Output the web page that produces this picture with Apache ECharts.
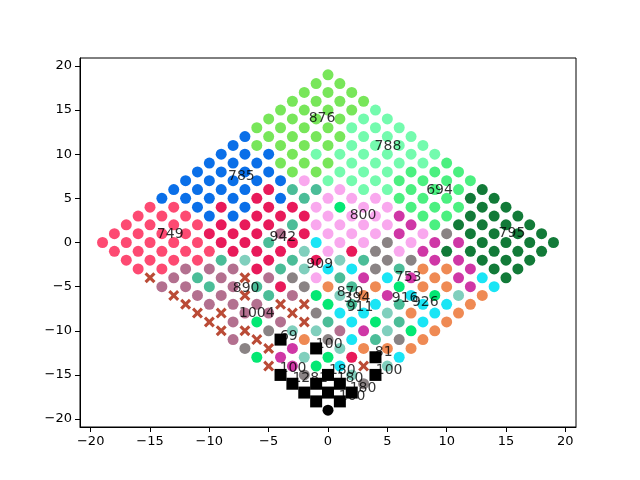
<!DOCTYPE html>
<html>
<head>
<meta charset="utf-8">
<script src="https://cdn.jsdelivr.net/npm/echarts@6/dist/echarts.min.js"></script>
<style>
  html, body { margin: 0; padding: 0; background: #fff; }
  #chart { width: 640px; height: 480px; }
</style>
</head>
<body>
<div id="chart"></div>
<script>
// one string per lattice row, top (y = 19) to bottom (y = -19)
// each char is one point, left to right, on the cells where x + y is odd
const rowY = [19, 18, 17, 16, 15, 14, 13, 12, 11, 10, 9, 8, 7, 6, 5, 4, 3, 2, 1, 0,
  -1, -2, -3, -4, -5, -6, -7, -8, -9, -10, -11, -12, -13, -14, -15, -16, -17, -18, -19]
const rowCodes = [
  'g',
  'gg',
  'ggg',
  'gggg',
  'ggggm',
  'ggggmm',
  'ggggmmm',
  'bggggmmm',
  'bggggmmmm',
  'bbbgmmmmmm',
  'bbbgggmmmmv',
  'bbbbggmmmvvv',
  'bbbbbkmmmvvvv',
  'bbbbcttkmmvvvd',
  'bbbbcbtkkkvvvdd',
  'ppbcbcckekkvvvdd',
  'pppbbccckkkMvvddd',
  'ppppccctkkkkMvdddd',
  'ppppcccrckkkMkadddd',
  'pppppcctcykkakMMdddd',
  'pppppccclkcakMddddd',
  'pppptlctcltaaMMddd',
  'pprrrctlyyatooMdd',
  'xrtrxraktMyMoMyd',
  'rrtrtcaotoeooMy',
  'xrrxtreloMyelo',
  'xrrrxxetytyyo',
  'xxrrxayyloyo',
  'xrerxtyetyo',
  'xxallrMleo',
  'rxsoaytao',
  'axMslooo',
  'eMlecsy',
  'xMeyxl',
  'sasls',
  'sssa',
  'sss',
  'ss',
  'B'
]

const groupColors = {
  g: '#78e65a', m: '#74fbae', v: '#4bf080', d: '#127a38',
  b: '#0a6fe8', p: '#fd4a72', c: '#e81a5a', r: '#b3708f',
  t: '#4bbd98', l: '#80cfbd', k: '#f9a8ee', M: '#cf37a6',
  a: '#8a8384', y: '#1ae5f5', e: '#04e873', o: '#ef8a54',
  x: '#ba4b36', s: '#000000', B: '#000000'
}

// annotations: text and where its centre sits
const noteText = ['876', '788', '785', '694', '800', '749', '942', '795', '909', '753',
  '890', '870', '394', '911', '916', '926', '1004', '69', '100', '81',
  '100', '180', '100', '1281', '180', '180', '100']
const noteX = [-0.5, 5.05, -7.3, 9.4, 2.95, -13.3, -3.8, 15.5, -0.7, 6.75,
  -6.9, 1.86, 2.45, 2.7, 6.5, 8.2, -6.0, -3.3, 0.1, 4.7,
  -2.95, 1.2, 5.15, -1.5, 1.86, 2.95, 2.03]
const noteY = [14.1, 10.9, 7.5, 5.9, 3.1, 0.9, 0.6, 1.0, -2.5, -4.0,
  -5.15, -5.67, -6.3, -7.4, -6.3, -6.75, -8.0, -10.6, -11.5, -12.4,
  -14.3, -14.45, -14.45, -15.4, -15.35, -16.5, -17.4]

const tickValues = [-20, -15, -10, -5, 0, 5, 10, 15, 20]

const crossPath = 'path://M2,0L5,3L8,0L10,2L7,5L10,8L8,10L5,7L2,10L0,8L3,5L0,2Z'

// collect points per colour group
const groups = {}
rowCodes.forEach((codes, i) => {
  const y = rowY[i]
  const xStart = -(19 - Math.abs(y))
  for (let j = 0; j < codes.length; j++) {
    const key = codes[j]
    if (!groups[key]) groups[key] = []
    groups[key].push([xStart + 2 * j, y])
  }
})

const fmt = (v) => (v < 0 ? '\u2212' + Math.abs(v) : String(v))

const series = Object.keys(groups).map((key) => {
  let symbol = 'circle'
  let size = 11
  let z = 2
  let zlevel = 0
  if (key === 'x') { symbol = crossPath; size = 11; z = 3 }
  // black markers sit above the annotation text
  if (key === 's') { symbol = 'rect'; size = 12; zlevel = 1 }
  if (key === 'B') { zlevel = 1 }
  return {
    type: 'scatter',
    data: groups[key],
    symbol,
    symbolSize: size,
    itemStyle: { color: groupColors[key], opacity: 1 },
    z,
    zlevel,
    silent: true,
  }
})

series.push({
  type: 'scatter',
  data: noteText.map((t, i) => [noteX[i], noteY[i], t]),
  symbol: 'circle',
  symbolSize: 1,
  itemStyle: { color: 'rgba(0,0,0,0)' },
  label: {
    show: true,
    position: 'inside',
    formatter: (p) => p.data[2],
    color: '#000',
    fontFamily: 'DejaVu Sans',
    fontSize: 14,
  },
  z: 4,
  silent: true,
})

const axisCommon = {
  type: 'value',
  min: -20.9,
  max: 20.9,
  axisLine: { show: true, onZero: false, lineStyle: { color: '#000', width: 1 } },
  axisTick: { show: true, inside: false, length: 5, customValues: tickValues, lineStyle: { color: '#000' } },
  axisLabel: {
    customValues: tickValues,
    formatter: fmt,
    color: '#000',
    fontFamily: 'DejaVu Sans',
    fontSize: 13,
    margin: 8,
  },
  splitLine: { show: false },
}

const chart = echarts.init(document.getElementById('chart'), null, { renderer: 'canvas' })
chart.setOption({
  animation: false,
  backgroundColor: '#fff',
  grid: { left: 80, right: 64, top: 58, bottom: 53, show: true, borderColor: '#000', borderWidth: 1 },
  xAxis: axisCommon,
  yAxis: axisCommon,
  series,
})
</script>
</body>
</html>
